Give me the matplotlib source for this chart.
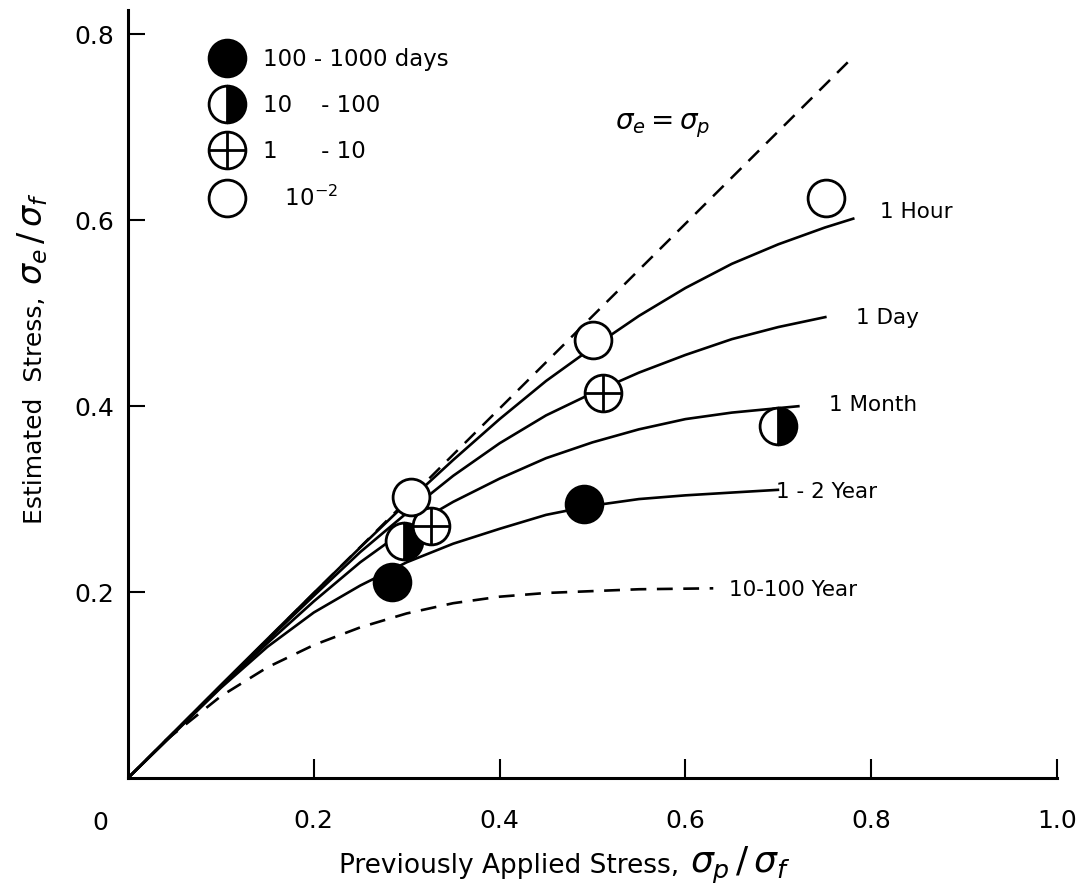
import matplotlib
matplotlib.use("Agg")
import matplotlib.pyplot as plt
from matplotlib.lines import Line2D
from matplotlib.legend_handler import HandlerTuple

plt.rcParams['font.family'] = ['DejaVu Sans']
plt.rcParams['mathtext.fontset'] = 'dejavusans'

# ---- data ----
equal_x = [0.0, 0.775]
equal_y = [0.0, 0.770]

hour_x = [0.0, 0.1, 0.2, 0.25, 0.3, 0.35, 0.4, 0.45, 0.5, 0.55, 0.6, 0.65, 0.7, 0.75, 0.782]
hour_y = [0.0, 0.1, 0.199, 0.248, 0.296, 0.342, 0.386, 0.427, 0.463, 0.497, 0.527, 0.553, 0.574, 0.592, 0.602]

day_x = [0.0, 0.1, 0.15, 0.2, 0.25, 0.3, 0.35, 0.4, 0.45, 0.5, 0.55, 0.6, 0.65, 0.7, 0.752]
day_y = [0.0, 0.099, 0.148, 0.196, 0.243, 0.285, 0.325, 0.36, 0.39, 0.414, 0.436, 0.455, 0.472, 0.485, 0.496]

month_x = [0.0, 0.1, 0.15, 0.2, 0.25, 0.3, 0.35, 0.4, 0.45, 0.5, 0.55, 0.6, 0.65, 0.723]
month_y = [0.0, 0.098, 0.145, 0.19, 0.232, 0.268, 0.297, 0.322, 0.344, 0.361, 0.375, 0.386, 0.393, 0.400]

year_x = [0.0, 0.1, 0.15, 0.2, 0.25, 0.3, 0.35, 0.4, 0.45, 0.5, 0.55, 0.6, 0.65, 0.701]
year_y = [0.0, 0.097, 0.141, 0.178, 0.207, 0.232, 0.252, 0.268, 0.283, 0.293, 0.300, 0.304, 0.307, 0.310]

century_x = [0.04, 0.1, 0.15, 0.2, 0.25, 0.3, 0.35, 0.4, 0.45, 0.5, 0.55, 0.63]
century_y = [0.04, 0.088, 0.119, 0.143, 0.162, 0.177, 0.188, 0.195, 0.199, 0.201, 0.203, 0.204]

filled_x = [0.284, 0.491]
filled_y = [0.211, 0.295]
half_x = [0.297, 0.700]
half_y = [0.255, 0.379]
cross_x = [0.326, 0.511]
cross_y = [0.271, 0.414]
open_x = [0.305, 0.500, 0.751]
open_y = [0.302, 0.471, 0.624]

legend_labels = ["100 - 1000 days", "10    - 100", "1      - 10", "   10$^{-2}$"]
curve_labels = ["1 Hour", "1 Day", "1 Month", "1 - 2 Year", "10-100 Year"]
xtick_vals = [0.2, 0.4, 0.6, 0.8, 1.0]
xtick_labels = ["0.2", "0.4", "0.6", "0.8", "1.0"]
ytick_vals = [0.2, 0.4, 0.6, 0.8]
ytick_labels = ["0.2", "0.4", "0.6", "0.8"]

# ---- figure ----
W, H = 1079, 892
fig = plt.figure(figsize=(W / 100, H / 100), dpi=100)
ax = fig.add_axes([128/W, 1 - 778/H, (1057-128)/W, (778-10)/H])
ax.set_xlim(0, 1.0)
ax.set_ylim(0, 0.826)

lw = 1.9
ax.plot(equal_x, equal_y, color='black', lw=1.8, ls=(0, (6, 4)))
for xs, ys in [(hour_x, hour_y), (day_x, day_y), (month_x, month_y), (year_x, year_y)]:
    ax.plot(xs, ys, color='black', lw=lw, solid_capstyle='butt', solid_joinstyle='round')
ax.plot(century_x, century_y, color='black', lw=1.9, ls=(0, (6, 4)))

ms = 26.5
mew = 2.0
ax.plot(filled_x, filled_y, 'o', ms=ms, mfc='black', mec='black', mew=mew, zorder=5)
ax.plot(half_x, half_y, 'o', ms=ms, fillstyle='right', mfc='black', mfcalt='white', mec='black', mew=mew, zorder=5)
ax.plot(cross_x, cross_y, 'o', ms=ms, mfc='white', mec='black', mew=mew, zorder=6)
ax.plot(cross_x, cross_y, '+', ms=ms, mec='black', mew=mew, zorder=6)
ax.plot(open_x, open_y, 'o', ms=ms, mfc='white', mec='black', mew=mew, zorder=7)

# curve labels
fs_lab = 15.5
label_pos = [(0.809, 0.609), (0.784, 0.495), (0.755, 0.401), (0.698, 0.308), (0.647, 0.202)]
for (tx, ty), t in zip(label_pos, curve_labels):
    ax.text(tx, ty, t, fontsize=fs_lab, va='center', ha='left')
ax.text(0.524, 0.702, r'$\sigma_e = \sigma_p$', fontsize=20, va='center', ha='left')

# legend
h_filled = Line2D([], [], ls='none', marker='o', ms=ms, mfc='black', mec='black', mew=mew)
h_half = Line2D([], [], ls='none', marker='o', ms=ms, fillstyle='right', mfc='black', mfcalt='white', mec='black', mew=mew)
h_cross = (Line2D([], [], ls='none', marker='o', ms=ms, mfc='white', mec='black', mew=mew),
           Line2D([], [], ls='none', marker='+', ms=ms, mec='black', mew=mew))
h_open = Line2D([], [], ls='none', marker='o', ms=ms, mfc='white', mec='black', mew=mew)
ax.legend([h_filled, h_half, h_cross, h_open], legend_labels,
          handler_map={tuple: HandlerTuple(ndivide=1, pad=0)},
          loc='upper left', bbox_to_anchor=(0.077, 0.9716), frameon=False,
          fontsize=16.5, labelspacing=1.0, handlelength=1.0, handletextpad=1.07,
          borderpad=0.2, borderaxespad=0.5)

# axes styling
for side in ['top', 'right']:
    ax.spines[side].set_visible(False)
for side in ['left', 'bottom']:
    ax.spines[side].set_linewidth(2.2)
ax.set_xticks(xtick_vals)
ax.set_xticklabels(xtick_labels)
ax.set_yticks(ytick_vals)
ax.set_yticklabels(ytick_labels)
ax.tick_params(axis='x', direction='in', length=14, width=1.5, labelsize=18, pad=22)
ax.tick_params(axis='y', direction='in', length=12, width=1.5, labelsize=18, pad=10)
ax.text(-0.03, -0.058, '0', fontsize=18, ha='center', va='center', transform=ax.transAxes)

# axis titles (text part + enlarged sigma part, as in the reference)
fig.text(679/W, 1 - 873/H, 'Previously Applied Stress,', fontsize=19, ha='right', va='baseline')
fig.text(690/W, 1 - 873/H, r'$\sigma_p\,/\,\sigma_f$', fontsize=26, ha='left', va='baseline')
fig.text(42/W, 1 - 297/H, 'Estimated  Stress,', fontsize=18, ha='right', va='baseline',
         rotation=90, rotation_mode='anchor')
fig.text(42/W, 1 - 285/H, r'$\sigma_e\,/\,\sigma_f$', fontsize=24, ha='left', va='baseline',
         rotation=90, rotation_mode='anchor')

fig.savefig('out.png', dpi=100)
